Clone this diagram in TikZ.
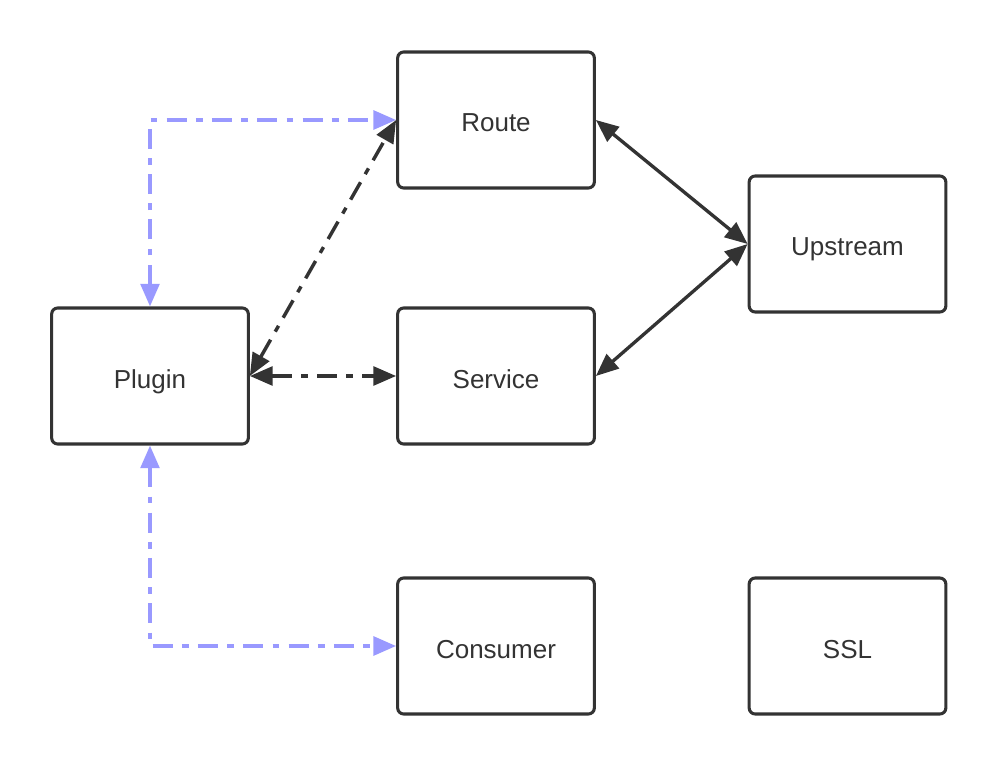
\documentclass[tikz,border=0pt]{standalone}
\usepackage{fontspec}
\setmainfont{Liberation Sans}
\usetikzlibrary{arrows.meta}
\definecolor{ink}{HTML}{333333}
\definecolor{lav}{HTML}{9999FF}
\begin{document}
\begin{tikzpicture}[x=0.75pt,y=-0.75pt,
  >={Triangle[length=17pt,width=14pt]},
  box/.style={draw=ink,line width=2.3pt,rounded corners=4.5pt,minimum width=147.5pt,minimum height=102pt,
    text=ink,font=\fontsize{19.5}{22}\selectfont,inner sep=0pt,text depth=0pt,text height=18pt},
  dd/.style={dash pattern=on 15pt off 7pt on 5pt off 7pt},
  blk/.style={draw=ink,line width=2.6pt,dd,<->},
  pur/.style={draw=lav,line width=2.8pt,dd,<->},
  sol/.style={draw=ink,line width=2.5pt,<->}]
\useasboundingbox (0,0) rectangle (998,766);
\node[box] (route) at (496,120) {Route};
\node[box] (up) at (847.5,244) {Upstream};
\node[box] (plugin) at (150,376) {Plugin};
\node[box] (service) at (496,376) {Service};
\node[box] (consumer) at (496,646) {Consumer};
\node[box] (ssl) at (847.5,646) {SSL};
\draw[pur] (plugin.north) |- (route.west);
\draw[pur] (plugin.south) |- (consumer.west);
\draw[blk] (plugin.east) -- (route.west);
\draw[blk] (plugin.east) -- (service.west);
\draw[sol] (route.east) -- (up.west);
\draw[sol] (service.east) -- (up.west);
\end{tikzpicture}
\end{document}
